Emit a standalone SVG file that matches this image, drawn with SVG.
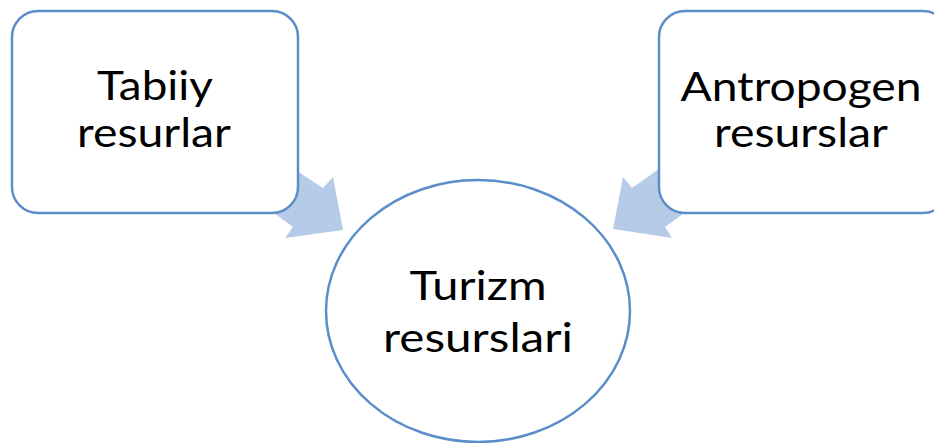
<svg xmlns="http://www.w3.org/2000/svg" width="934" height="443" viewBox="0 0 934 443">
<style>
.node{fill:#ffffff;stroke:#5b8ec8;stroke-width:2.5}
.arrow{fill:#b6cbe8;stroke:none}
.lbl{font-family:Lato,"Open Sans","Liberation Sans",sans-serif;font-size:41px;fill:#000000;text-anchor:middle}
</style>
<rect width="934" height="443" fill="#ffffff"/>
<g id="connectors">
<polygon class="arrow" points="250,140 323,188 333,177 343,230 285,238 293,227 225,177"/>
<polygon class="arrow" points="700,140 632,188 623,177 613,229 672,238 665,227 730,180"/>
</g>
<g id="node-tabiiy">
<rect class="node" x="12" y="11" width="286" height="202" rx="26" ry="26"/>
<text class="lbl" x="155" y="100" textLength="116" lengthAdjust="spacingAndGlyphs">Tabiiy</text>
<text class="lbl" x="154" y="147" textLength="154" lengthAdjust="spacingAndGlyphs">resurlar</text>
</g>
<g id="node-antropogen">
<rect class="node" x="659" y="11" width="290" height="202" rx="26" ry="26"/>
<text class="lbl" x="801" y="101" textLength="241" lengthAdjust="spacingAndGlyphs">Antropogen</text>
<text class="lbl" x="801" y="147" textLength="174" lengthAdjust="spacingAndGlyphs">resurslar</text>
</g>
<g id="node-turizm">
<ellipse class="node" cx="478" cy="311" rx="152" ry="131"/>
<text class="lbl" x="478" y="300" textLength="137" lengthAdjust="spacingAndGlyphs">Turizm</text>
<text class="lbl" x="478" y="352" textLength="190" lengthAdjust="spacingAndGlyphs">resurslari</text>
</g>
</svg>
